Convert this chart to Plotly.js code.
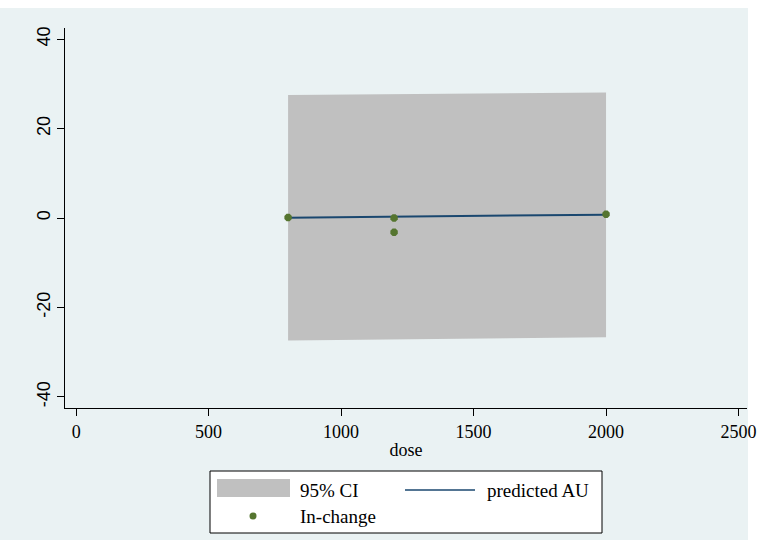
<!DOCTYPE html>
<html>
<head>
<meta charset="utf-8">
<script src="https://cdn.plot.ly/plotly-3.0.1.min.js"></script>
<style>html,body{margin:0;padding:0;background:#fff;}#chart{width:757px;height:540px;}</style>
</head>
<body>
<div id="chart"></div>
<script>
// Observed points
var dose = [800, 1200, 1200, 2000];
var inChange = [0.1, 0.0, -3.2, 0.85];
// Prediction and 95% CI
var predDose = [800, 1200, 2000];
var predicted = [0.07, 0.29, 0.74];
var ciUpper = [27.5, 27.7, 28.1];
var ciLower = [-27.4, -27.2, -26.7];
// Axis ticks
var xTicks = [0, 500, 1000, 1500, 2000, 2500];
var yTicks = [-40, -20, 0, 20, 40];
var legendLabels = ["95% CI", "predicted AU", "In-change"];

var bandX = predDose.concat(predDose.slice().reverse());
var bandY = ciUpper.concat(ciLower.slice().reverse());

var traces = [
  {x: bandX, y: bandY, type: 'scatter', mode: 'lines', fill: 'toself',
   fillcolor: '#c0c0c0', line: {width: 0, color: '#c0c0c0'}, name: legendLabels[0], showlegend: false, hoverinfo: 'skip'},
  {x: predDose, y: predicted, type: 'scatter', mode: 'lines',
   line: {color: '#1a476f', width: 2}, name: legendLabels[1], showlegend: false},
  {x: dose, y: inChange, type: 'scatter', mode: 'markers',
   marker: {color: '#55752f', size: 8, symbol: 'octagon'}, name: legendLabels[2], showlegend: false}
];

var L = 65, R = 747, T = 28, B = 408;
function px(v){ return (v - L) / (R - L); }
function py(v){ return (B - v) / (B - T); }

var shapes = [
  // Stata graph region background
  {type: 'rect', xref: 'paper', yref: 'paper', x0: px(0), x1: px(748), y0: py(540), y1: py(8),
   fillcolor: '#eaf2f3', line: {width: 0}, layer: 'below'},
  // legend box
  {type: 'rect', xref: 'paper', yref: 'paper', x0: px(210), x1: px(602), y0: py(533), y1: py(471),
   fillcolor: '#ffffff', line: {color: '#000000', width: 1}},
  {type: 'rect', xref: 'paper', yref: 'paper', x0: px(217), x1: px(290), y0: py(497), y1: py(479),
   fillcolor: '#c0c0c0', line: {width: 0}},
  {type: 'line', xref: 'paper', yref: 'paper', x0: px(405), x1: px(475), y0: py(490), y1: py(490),
   line: {color: '#1a476f', width: 1.5}},
  {type: 'circle', xref: 'paper', yref: 'paper', x0: px(249.5), x1: px(256.5), y0: py(519.5), y1: py(512.5),
   fillcolor: '#55752f', line: {color: '#55752f', width: 0}}
];

var serif = 'Liberation Serif, Times New Roman, serif';
var legFont = {family: serif, size: 19, color: '#000'};
var annotations = [
  {xref: 'paper', yref: 'paper', x: px(298), y: py(490), text: legendLabels[0], showarrow: false, xanchor: 'left', yanchor: 'middle', font: legFont},
  {xref: 'paper', yref: 'paper', x: px(485), y: py(490), text: legendLabels[1], showarrow: false, xanchor: 'left', yanchor: 'middle', font: legFont},
  {xref: 'paper', yref: 'paper', x: px(298), y: py(516), text: legendLabels[2], showarrow: false, xanchor: 'left', yanchor: 'middle', font: legFont}
];

var layout = {
  width: 757, height: 540,
  margin: {l: L, r: 757 - R, t: T, b: 540 - B, pad: 0},
  paper_bgcolor: '#ffffff',
  plot_bgcolor: '#ffffff',
  showlegend: false,
  xaxis: {
    range: [-42, 2532], tickvals: xTicks, ticktext: xTicks.map(String),
    showgrid: false, zeroline: false, showline: true, linecolor: '#000', linewidth: 1,
    ticks: 'outside', ticklen: 7, tickcolor: '#000', tickwidth: 1,
    tickfont: {family: serif, size: 18, color: '#000'},
    title: {text: 'dose', font: {family: serif, size: 18, color: '#000'}, standoff: 2}
  },
  yaxis: {
    range: [-42.5, 42.5], tickvals: yTicks, ticktext: yTicks.map(String),
    showgrid: true, gridcolor: '#eaf2f3', gridwidth: 1,
    zeroline: false, showline: true, linecolor: '#000', linewidth: 1,
    ticks: 'outside', ticklen: 7, tickcolor: '#000', tickwidth: 1, tickangle: -90,
    tickfont: {family: 'Liberation Sans, Arial, sans-serif', size: 18, color: '#000'}
  },
  shapes: shapes,
  annotations: annotations
};

Plotly.newPlot('chart', traces, layout, {displayModeBar: false, staticPlot: true});
</script>
</body>
</html>
